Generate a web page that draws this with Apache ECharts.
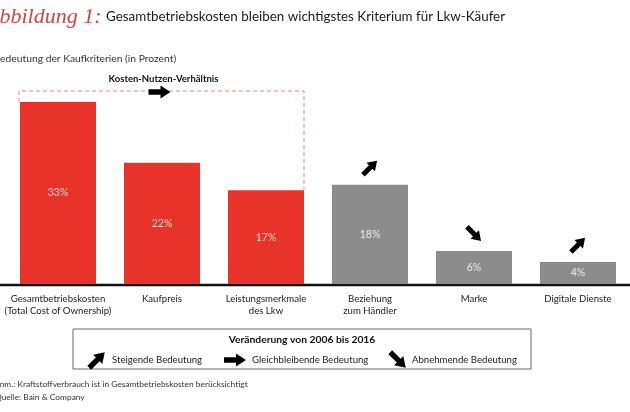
<!DOCTYPE html>
<html>
<head>
<meta charset="utf-8">
<script src="https://cdn.jsdelivr.net/npm/echarts@6/dist/echarts.min.js"></script>
<style>
  html, body { margin: 0; padding: 0; background: #fff; }
  #chart { width: 630px; height: 412px; }
</style>
</head>
<body>
<div id="chart"></div>
<script>
// data
const categories = [
  'Gesamtbetriebskosten\n(Total Cost of Ownership)',
  'Kaufpreis',
  'Leistungsmerkmale\ndes Lkw',
  'Beziehung\nzum Händler',
  'Marke',
  'Digitale Dienste'
];
const shares = [33, 22, 17, 18, 6, 4];
// 1 = part of the "Kosten-Nutzen-Verhältnis" group
const costBenefit = [1, 1, 1, 0, 0, 0];
// change 2006 -> 2016 per criterion
const trends = ['flat', 'flat', 'flat', 'up', 'down', 'up'];
const groupLabel = 'Kosten-Nutzen-Verhältnis';
const groupTrend = 'flat';
const legendTitle = 'Veränderung von 2006 bis 2016';
const legendTrends = ['up', 'flat', 'down'];
const legendLabels = ['Steigende Bedeutung', 'Gleichbleibende Bedeutung', 'Abnehmende Bedeutung'];

const RED = '#e8332a';
const GREY = '#8c8c8c';
const FONT = 'Lato';
const ARROW = 'path://M0,3.5 L11,3.5 L11,0 L20,6 L11,12 L11,8.5 L0,8.5 Z';
const ARROW_PTS = [[-11, -2.7], [1, -2.7], [1, -6.5], [11, 0], [1, 6.5], [1, 2.7], [-11, 2.7]];
const rot = { up: 45, flat: 0, down: -45 };

let chart = echarts.init(document.getElementById('chart'));

let option = {
  animation: false,
  textStyle: { fontFamily: FONT },
  grid: { left: 6, right: 0, top: 102, bottom: 128 },
  xAxis: {
    type: 'category',
    data: categories,
    axisLine: { show: false },
    axisTick: { show: false },
    axisLabel: {
      color: '#222', fontSize: 9.6, lineHeight: 12, margin: 9, interval: 0
    }
  },
  yAxis: { type: 'value', min: 0, max: 33, show: false },
  series: [
    {
      type: 'bar',
      barWidth: 76,
      data: shares.map((v, i) => ({
        value: v,
        itemStyle: { color: costBenefit[i] ? RED : GREY },
        label: { color: costBenefit[i] ? '#fcd3cc' : '#ececec' }
      })),
      label: {
        show: true, position: 'inside', fontSize: 10.5,
        formatter: '{c}%'
      }
    },
    {
      type: 'scatter',
      symbol: ARROW,
      symbolSize: [20, 12],
      symbolOffset: [0, -17],
      itemStyle: { color: '#000', opacity: 1 },
      data: shares.map((v, i) => costBenefit[i] ? null : {
        value: [i, v],
        symbolRotate: rot[trends[i]]
      }).filter(d => d)
    }
  ]
};
chart.setOption(option);

// annotations built from the axis scales
const px = (i, v) => chart.convertToPixel({ gridIndex: 0 }, [i, v]);
const first = costBenefit.indexOf(1);
const last = costBenefit.lastIndexOf(1);
const boxL = px(first, 0)[0] - 39;
const boxR = px(last, 0)[0] + 38;
const boxTop = px(first, Math.max(...shares.slice(first, last + 1)))[1] - 11;
const base = px(0, 0)[1];
const dash = { stroke: '#e3837d', lineWidth: 1, lineDash: [4, 3] };
const boxMid = (boxL + boxR) / 2;

function arrow(x, y, trend) {
  return {
    type: 'polygon', x: x, y: y,
    rotation: rot[trend] * Math.PI / 180,
    shape: { points: ARROW_PTS },
    style: { fill: '#000' }, z: 10
  };
}

const graphics = [
  // baseline
  { type: 'line', shape: { x1: 0, y1: base + 1, x2: 630, y2: base + 1 }, style: { stroke: '#111', lineWidth: 2.5 } },
  // dashed group bracket
  { type: 'polyline', shape: { points: [[boxL, px(first, shares[first])[1]], [boxL, boxTop], [boxR, boxTop], [boxR, px(last, shares[last])[1]]] }, style: Object.assign({ fill: null }, dash) },
  { type: 'text', x: boxMid + 2, y: boxTop - 12, style: { text: groupLabel, font: 'bold 9.5px ' + FONT, fill: '#111', align: 'center', verticalAlign: 'middle' } },
  arrow(boxMid - 2, boxTop + 1, groupTrend),
  // title
  { type: 'text', x: -14, y: 17, style: { text: 'Abbildung 1:', font: 'italic 22px "Liberation Serif"', fill: '#d6453d', verticalAlign: 'middle' } },
  { type: 'text', x: 106, y: 17, style: { text: 'Gesamtbetriebskosten bleiben wichtigstes Kriterium für Lkw-Käufer', font: '13.4px ' + FONT, fill: '#1a1a1a', verticalAlign: 'middle' } },
  { type: 'text', x: -6.5, y: 59, style: { text: 'Bedeutung der Kaufkriterien (in Prozent)', font: '10.3px ' + FONT, fill: '#333', verticalAlign: 'middle' } },
  // legend box
  { type: 'rect', shape: { x: 73, y: 329, width: 458, height: 40 }, style: { fill: '#fff', stroke: '#666', lineWidth: 1 } },
  { type: 'text', x: 302, y: 340, style: { text: legendTitle, font: 'bold 10.3px ' + FONT, fill: '#111', align: 'center', verticalAlign: 'middle' } },
  // footnotes
  { type: 'text', x: -6, y: 384, style: { text: 'Anm.: Kraftstoffverbrauch ist in Gesamtbetriebskosten berücksichtigt', font: '8.4px ' + FONT, fill: '#333', verticalAlign: 'middle' } },
  { type: 'text', x: -5, y: 397, style: { text: 'Quelle: Bain & Company', font: '8.4px ' + FONT, fill: '#333', verticalAlign: 'middle' } }
];

const legendArrowX = [97, 235, 398];
const legendTextX = [112, 252, 412];
legendTrends.forEach((t, i) => {
  graphics.push(arrow(legendArrowX[i], 360, t));
  graphics.push({
    type: 'text', x: legendTextX[i], y: 360, z: 10,
    style: { text: legendLabels[i], font: '9.6px ' + FONT, fill: '#222', verticalAlign: 'middle' }
  });
});

chart.setOption({ graphic: graphics });
</script>
</body>
</html>
